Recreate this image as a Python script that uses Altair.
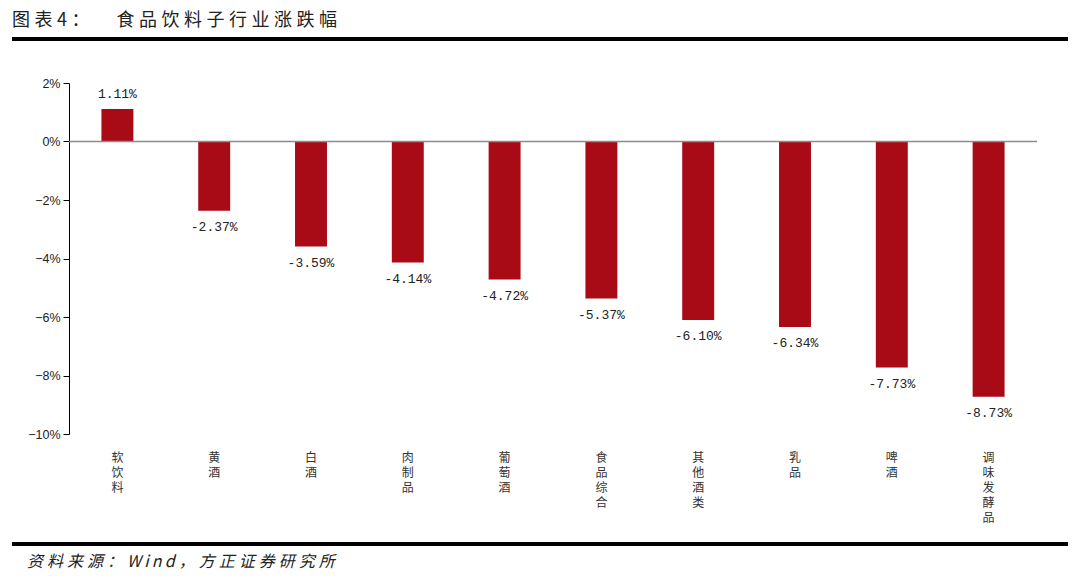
import altair as alt
import pandas as pd

categories = ["软饮料", "黄酒", "白酒", "肉制品", "葡萄酒", "食品综合", "其他酒类", "乳品", "啤酒", "调味发酵品"]
values = [1.11, -2.37, -3.59, -4.14, -4.72, -5.37, -6.10, -6.34, -7.73, -8.73]
y_ticks = [2, 0, -2, -4, -6, -8, -10]
title_text = "图表4：\u3000食品饮料子行业涨跌幅"
source_text = "资料来源：Wind，方正证券研究所"

SP = "\u2005"
THIN = "\u2009"
def spaced(s):
    out = ""
    for i, ch in enumerate(s):
        out += ch
        if i < len(s) - 1:
            nxt = s[i + 1]
            if ch.isascii() and nxt.isascii():
                if ch.isalpha() and nxt.isalpha():
                    out += THIN
            else:
                out += SP
    return out

df = pd.DataFrame({
    "cat": categories,
    "val": values,
    "lab": [f"{v:.2f}%" for v in values],
})

W, H = 968, 351
CJK = "Noto Sans CJK SC"

x = alt.X("cat:N", sort=categories, title=None,
          scale=alt.Scale(paddingInner=0.67, paddingOuter=0.335),
          axis=alt.Axis(orient="bottom", ticks=False, domain=False, labelAngle=0,
                        labelAlign="center", labelBaseline="top", labelPadding=18,
                        labelFont=CJK, labelFontSize=12, labelColor="#333333",
                        labelLineHeight=15,
                        labelExpr="split(datum.label, '')"))
y = alt.Y("val:Q", title=None,
          scale=alt.Scale(domain=[-10, 2], nice=False, zero=False),
          axis=alt.Axis(values=y_ticks, grid=False, domainColor="#000000", domainWidth=1,
                        tickColor="#000000", tickSize=6, tickWidth=1, labelPadding=3,
                        labelFont="Liberation Sans", labelFontSize=12.5, labelColor="#222222",
                        labelExpr="format(datum.value, 'd') + '%'"))

base = alt.Chart(df)
bars = base.mark_bar(color="#A80A16").encode(x=x, y=y, y2=alt.datum(0))

pos = base.transform_filter("datum.val >= 0").mark_text(
    font="Liberation Mono", fontSize=13, color="#222222", baseline="middle", dy=-15
).encode(x=alt.X("cat:N", sort=categories), y="val:Q", text="lab:N")
neg = base.transform_filter("datum.val < 0").mark_text(
    font="Liberation Mono", fontSize=13, color="#222222", baseline="middle", dy=16
).encode(x=alt.X("cat:N", sort=categories), y="val:Q", text="lab:N")

zero = alt.Chart(pd.DataFrame({"z": [0]})).mark_rule(color="#8c8c8c", strokeWidth=1.5).encode(
    y=alt.Y("z:Q"), x=alt.value(0), x2=alt.value(W))

deco = pd.DataFrame({"t": [spaced(title_text)]})
title = alt.Chart(deco).mark_text(font=CJK, fontSize=18, color="#222222", align="left",
                                  baseline="middle").encode(
    x=alt.value(-57), y=alt.value(-62), text="t:N")
src = alt.Chart(pd.DataFrame({"t": [spaced(source_text)]})).mark_text(
    font=CJK, fontSize=16, fontStyle="italic", color="#222222", align="left",
    baseline="middle").encode(x=alt.value(-42), y=alt.value(479), text="t:N")
line1 = alt.Chart(deco).mark_rule(color="#000000", strokeWidth=4).encode(
    x=alt.value(-57), x2=alt.value(999), y=alt.value(-44))
line2 = alt.Chart(deco).mark_rule(color="#000000", strokeWidth=4).encode(
    x=alt.value(-57), x2=alt.value(999), y=alt.value(461))

chart = alt.layer(bars, zero, pos, neg, title, src, line1, line2).properties(
    width=W, height=H,
    padding={"left": 61, "top": 75, "right": 35, "bottom": 137},
    autosize=alt.AutoSizeParams(type="none"),
    view=alt.ViewBackground(strokeOpacity=0, strokeWidth=0),
).configure_view(strokeWidth=0, strokeOpacity=0).configure(background="#ffffff")

chart.save("out.html", embed_options={"renderer": "svg", "actions": False})
